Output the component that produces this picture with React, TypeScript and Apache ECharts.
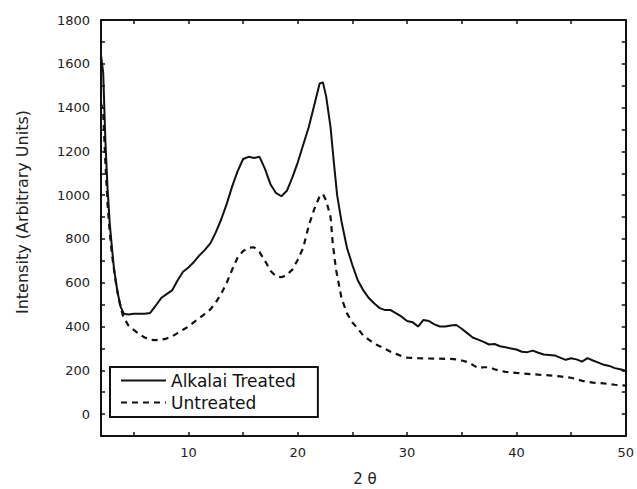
import React, { useEffect, useRef } from "react";
import * as echarts from "echarts";

const treatedX = [2.0, 2.2, 2.4, 2.6, 2.8, 3.0, 3.2, 3.5, 3.8, 4.1, 4.5, 5.0, 6.0, 6.5, 7.0, 7.5, 8.0, 8.5, 9.0, 9.5, 10.0, 10.5, 11.0, 11.5, 12.0, 12.5, 13.0, 13.5, 14.0, 14.5, 15.0, 15.5, 16.0, 16.5, 17.0, 17.5, 18.0, 18.5, 19.0, 19.5, 20.0, 20.5, 21.0, 21.5, 22.0, 22.3, 22.6, 23.0, 23.3, 23.6, 24.0, 24.5, 25.0, 25.5, 26.0, 26.5, 27.0, 27.5, 28.0, 28.5, 29.0, 29.5, 30.0, 30.5, 31.0, 31.5, 32.0, 32.5, 33.0, 33.5, 34.0, 34.5, 35.0, 35.5, 36.0, 36.5, 37.0, 37.5, 38.0, 38.5, 39.0, 39.5, 40.0, 40.5, 41.0, 41.5, 42.0, 42.5, 43.0, 43.5, 44.0, 44.5, 45.0, 45.5, 46.0, 46.5, 47.0, 47.5, 48.0, 48.5, 49.0, 49.5, 50.0];
const treatedY = [1640, 1560, 1250, 1030, 870, 760, 660, 560, 490, 458, 455, 458, 458, 462, 495, 530, 548, 565, 610, 650, 670, 695, 725, 750, 780, 830, 890, 960, 1040, 1110, 1165, 1175, 1170, 1175, 1120, 1050, 1010, 995, 1020, 1080, 1150, 1230, 1310, 1410, 1510, 1515, 1450, 1310, 1150, 1000, 880, 760, 680, 610, 565, 530, 505, 484, 475, 475, 460, 445, 425, 420, 400, 430, 425, 410, 400, 400, 405, 407, 390, 370, 350, 340, 330, 318, 320, 310, 305, 300, 295, 285, 283, 290, 280, 272, 270, 268, 258, 248, 255, 250, 240, 256, 245, 235, 225, 220, 210, 205, 198];

const untreatedX = [2.0, 2.2, 2.4, 2.6, 2.8, 3.0, 3.3, 3.6, 4.0, 4.5, 5.0, 5.5, 6.0, 6.5, 7.0, 7.5, 8.0, 8.5, 9.0, 9.5, 10.0, 10.5, 11.0, 11.5, 12.0, 12.5, 13.0, 13.5, 14.0, 14.5, 15.0, 15.5, 16.0, 16.5, 17.0, 17.5, 18.0, 18.5, 19.0, 19.5, 20.0, 20.5, 21.0, 21.5, 22.0, 22.3, 22.6, 23.0, 23.2, 23.5, 24.0, 24.5, 25.0, 25.5, 26.0, 26.5, 27.0, 27.5, 28.0, 28.5, 29.0, 29.5, 30.0, 31.0, 32.0, 33.0, 34.0, 34.5, 35.0, 35.5, 36.0, 36.5, 37.0, 37.5, 38.0, 38.5, 39.0, 40.0, 41.0, 42.0, 43.0, 44.0, 45.0, 45.5, 46.0, 46.5, 47.0, 48.0, 49.0, 50.0];
const untreatedY = [1420, 1380, 1150, 960, 830, 730, 620, 530, 450, 405, 385, 365, 350, 340, 338, 340, 345, 355, 370, 385, 400, 420, 438, 458, 478, 510, 550, 600, 660, 715, 745, 760, 762, 740, 700, 655, 630, 625, 635, 660, 705, 760, 860, 935, 995, 1005, 975, 900, 780, 660, 530, 460, 418, 390, 358, 340, 322, 310, 298, 285, 275, 265, 258, 255, 254, 253, 252, 250, 245, 238, 225, 210, 214, 214, 205, 198, 193, 188, 184, 180, 177, 172, 166, 160, 152, 147, 144, 140, 134, 130];

const xTicks = [5, 10, 15, 20, 25, 30, 35, 40, 45];
const xLabels = [10, 20, 30, 40, 50];
const yTicks = [0, 100, 200, 300, 400, 500, 600, 700, 800, 900, 1000, 1100, 1200, 1300, 1400, 1500, 1600, 1700];
const yLabels = [0, 200, 400, 600, 800, 1000, 1200, 1400, 1600, 1800];

const FONT = "DejaVu Sans";
const INK = "#111";

export default function App() {
  const ref = useRef<HTMLDivElement>(null);
  useEffect(() => {
    if (!ref.current) return;
    const chart = echarts.init(ref.current, undefined, { renderer: "svg" });
    const axisLine = { show: true, onZero: false, lineStyle: { color: INK, width: 2 } };
    const fmt = (v: number) => String(v);
    const mkX = (pos: "bottom" | "top", labels: boolean) => ({
      type: "value",
      position: pos,
      min: 2,
      max: 50,
      axisLine,
      splitLine: { show: false },
      axisTick: { show: true, inside: true, length: 4, customValues: xTicks, lineStyle: { color: INK, width: 1.5 } },
      axisLabel: labels
        ? { show: true, customValues: xLabels, formatter: fmt, margin: 10, fontFamily: FONT, fontSize: 13, color: "#222" }
        : { show: false },
    });
    const mkY = (pos: "left" | "right", labels: boolean) => ({
      type: "value",
      position: pos,
      min: -100,
      max: 1800,
      axisLine,
      splitLine: { show: false },
      axisTick: { show: true, inside: true, length: 4, customValues: yTicks, lineStyle: { color: INK, width: 1.5 } },
      axisLabel: labels
        ? { show: true, customValues: yLabels, formatter: fmt, margin: 11, fontFamily: FONT, fontSize: 13, color: "#222" }
        : { show: false },
    });
    chart.setOption({
      animation: false,
      backgroundColor: "#fff",
      grid: { left: 101, right: 7, top: 20, bottom: 53, containLabel: false },
      xAxis: [mkX("bottom", true), mkX("top", false)],
      yAxis: [mkY("left", true), mkY("right", false)],
      legend: {
        orient: "vertical",
        left: 110,
        top: 367,
        padding: [5, 22, 6, 10],
        itemGap: 5,
        itemWidth: 45,
        itemHeight: 14,
        borderColor: INK,
        borderWidth: 2,
        backgroundColor: "#fff",
        itemStyle: { opacity: 0 },
        textStyle: { fontFamily: FONT, fontSize: 17, color: INK, lineHeight: 17 },
        data: ["Alkalai Treated", "Untreated"],
      },
      graphic: [
        {
          type: "text",
          x: 22,
          y: 212,
          rotation: Math.PI / 2,
          style: {
            text: "Intensity (Arbitrary Units)",
            fontFamily: FONT,
            fontSize: 16,
            fill: "#222",
            align: "center",
            verticalAlign: "middle",
          },
        },
        {
          type: "text",
          x: 365,
          y: 479,
          style: {
            text: "2 θ",
            fontFamily: FONT,
            fontSize: 15,
            fill: "#222",
            align: "center",
            verticalAlign: "middle",
          },
        },
      ],
      series: [
        {
          name: "Alkalai Treated",
          type: "line",
          xAxisIndex: 0,
          yAxisIndex: 0,
          symbol: "none",
          data: treatedX.map((x, i) => [x, treatedY[i]]),
          lineStyle: { color: INK, width: 2 },
          itemStyle: { color: INK },
          z: 3,
        },
        {
          name: "Untreated",
          type: "line",
          xAxisIndex: 0,
          yAxisIndex: 0,
          symbol: "none",
          data: untreatedX.map((x, i) => [x, untreatedY[i]]),
          lineStyle: { color: INK, width: 2.2, type: [6, 5] },
          itemStyle: { color: INK },
          z: 2,
        },
      ],
    });
    return () => chart.dispose();
  }, []);
  return (
    <div
      ref={ref}
      style={{ position: "fixed", left: 0, top: 0, width: 637, height: 489, background: "#fff" }}
    />
  );
}
